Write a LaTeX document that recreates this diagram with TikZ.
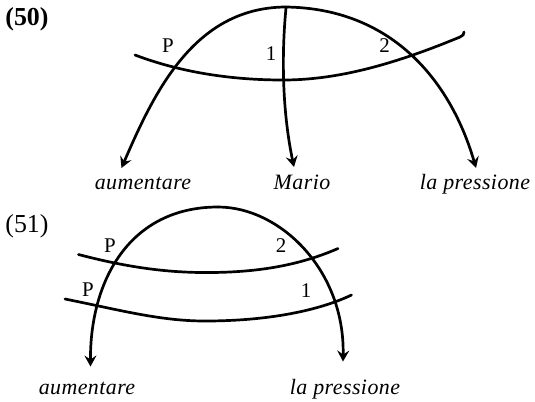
\documentclass[tikz,border=0pt]{standalone}
\usepackage{fontspec}
\setmainfont{Liberation Serif}
\newfontfamily\wordfont[LetterSpace=2]{Liberation Serif}
\usetikzlibrary{arrows.meta}
\begin{document}
\begin{tikzpicture}[x=1bp,y=-1bp,
  curve/.style={line width=2.7bp,line cap=round},
  arr/.style={curve,-{Stealth[length=11bp,width=12bp,inset=4bp]}},
  word/.style={font=\wordfont\fontsize{22}{24}\selectfont\itshape,anchor=base,inner sep=0pt},
  lab/.style={font=\fontsize{21}{23}\selectfont,inner sep=0pt},
  num/.style={font=\fontsize{26}{28}\selectfont,inner sep=0pt}]
\useasboundingbox (0,0) rectangle (535,401);
% ---------- (50)
\node[num,font=\fontsize{26}{28}\selectfont\bfseries] (n50) at (27,19) {(50)};
\coordinate (top50) at (285,7);
\coordinate (a50) at (121.5,168);
\coordinate (m50) at (294,167);
\coordinate (p50) at (476,168);
\coordinate (mtop) at (286,8);
\draw[arr] (top50) .. controls (195,8) and (155,90) .. (a50);
\draw[arr] (top50) .. controls (395,8) and (452,85) .. (p50);
\draw[arr] (mtop) .. controls (281,60) and (283,115) .. (m50);
\coordinate (c50s) at (135,55);
\coordinate (c50b) at (283,80);
\coordinate (c50e) at (460,37);
\coordinate (c50h) at (464,32);
\draw[curve] (c50s) .. controls (180,72) and (230,80) .. (c50b)
  .. controls (335,80) and (390,66) .. (c50e) .. controls (463,36) and (464,34) .. (c50h);
\node[lab] (P50) at (168,46) {P};
\node[lab] (one50) at (271,54) {1};
\node[lab] (two50) at (384.5,45.5) {2};
\node[word] (au50) at (143,189) {aumentare};
\node[word] (ma50) at (302,189) {Mario};
\node[word] (lp50) at (475,189) {la pressione};
% ---------- (51)
\node[num] (n51) at (27,226) {(51)};
\coordinate (top51) at (218,207);
\coordinate (a51) at (90.5,366.5);
\coordinate (p51) at (343,361.5);
\draw[arr] (top51) .. controls (130,207) and (90,280) .. (a51);
\draw[arr] (top51) .. controls (280,207) and (345,270) .. (p51);
\coordinate (u51s) at (78.5,254.5);
\coordinate (u51b) at (212,272.5);
\coordinate (u51e) at (338,248.5);
\draw[curve] (u51s) .. controls (130,268) and (170,273) .. (u51b)
  .. controls (260,272) and (300,265) .. (u51e);
\coordinate (l51s) at (65,299);
\coordinate (l51b) at (205,321);
\coordinate (l51e) at (351.5,295);
\draw[curve] (l51s) .. controls (120,310) and (160,321) .. (l51b)
  .. controls (270,321) and (320,310) .. (l51e);
\node[lab] (P51u) at (110,245.5) {P};
\node[lab] (two51) at (281,245.5) {2};
\node[lab] (P51l) at (88,290) {P};
\node[lab] (one51) at (306,290.5) {1};
\node[word] (au51) at (87,394) {aumentare};
\node[word] (lp51) at (345,394) {la pressione};
\end{tikzpicture}
\end{document}
